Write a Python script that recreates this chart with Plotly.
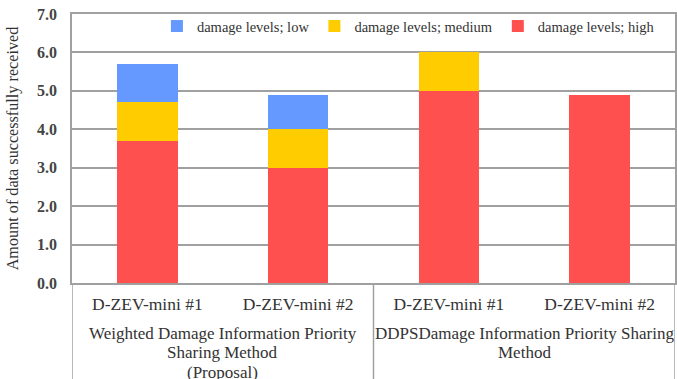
import plotly.graph_objects as go

groups = ["Weighted Damage Information Priority<br>Sharing Method<br>(Proposal)"] * 2 + \
         ["DDPSDamage Information Priority Sharing<br>Method"] * 2
vehicles = ["D-ZEV-mini #1", "D-ZEV-mini #2", "D-ZEV-mini #1", "D-ZEV-mini #2"]
high = [3.7, 3.0, 5.0, 4.9]
medium = [1.0, 1.0, 1.0, 0.0]
low = [1.0, 0.9, 0.0, 0.0]

pos = list(range(len(vehicles)))
fig = go.Figure()
fig.add_trace(go.Bar(x=pos, y=high, name="damage levels; high", marker_color="#FF5050",
                     marker_line_width=0))
fig.add_trace(go.Bar(x=pos, y=medium, name="damage levels; medium", marker_color="#FFCC00",
                     marker_line_width=0))
fig.add_trace(go.Bar(x=pos, y=low, name="damage levels; low", marker_color="#6699FF",
                     marker_line_width=0))

font = "Liberation Serif, Times New Roman, serif"
fig.update_layout(
    barmode="stack",
    bargap=0.6,
    width=677, height=379,
    margin=dict(l=72, r=2, t=14, b=96),
    paper_bgcolor="white", plot_bgcolor="white",
    font=dict(family=font, size=16, color="#333333"),
    legend=dict(orientation="h", traceorder="reversed", x=0.975, xanchor="right",
                y=0.955, yanchor="middle", font=dict(size=14.5),
                bgcolor="rgba(0,0,0,0)", itemwidth=30),
    showlegend=True,
)
fig.update_yaxes(range=[0, 7], dtick=1, tickformat=".1f", showgrid=True,
                 gridcolor="#a0a0a0", gridwidth=1.5, showline=True, linecolor="#a0a0a0",
                 linewidth=1.5, mirror=True, ticks="", zeroline=False, automargin=False,
                 tickfont=dict(size=16, color="#444444", weight="bold"),
                 ticklabelstandoff=10,
                 title=dict(text="Amount of data successfully received", standoff=14,
                            font=dict(size=16.2, color="#333333")))
fig.update_xaxes(range=[-0.5, len(vehicles) - 0.5], tickvals=pos, ticktext=vehicles,
                 showline=True, linecolor="#a0a0a0", linewidth=1.5, mirror=True,
                 showgrid=False, zeroline=False, ticks="", automargin=False,
                 ticklabelstandoff=4, tickfont=dict(size=17.5, color="#333333"))

# group labels (one annotation per line for Excel-like tight line spacing) and dividers
plot_h = 379 - 14 - 96
unique_groups = list(dict.fromkeys(groups))
for g in unique_groups:
    idx = [i for i, gg in enumerate(groups) if gg == g]
    for j, line in enumerate(g.split("<br>")):
        fig.add_annotation(x=sum(idx) / len(idx), xref="x",
                           y=-(50 + 19.5 * j) / plot_h, yref="paper",
                           yanchor="middle", text=line, showarrow=False, align="center",
                           font=dict(size=17, color="#333333"))
bounds = [-0.5] + [i + 0.5 for i in range(len(groups) - 1) if groups[i] != groups[i + 1]] + \
         [len(groups) - 0.5]
for b in bounds:
    fig.add_shape(type="line", x0=b, x1=b, xref="x", y0=0, y1=-0.4, yref="paper",
                  line=dict(color="#a0a0a0", width=1.5))
fig.write_html("out.html", config={"displayModeBar": False},
               post_script="document.body.style.margin='0';"
                           "document.body.style.overflow='hidden';")
